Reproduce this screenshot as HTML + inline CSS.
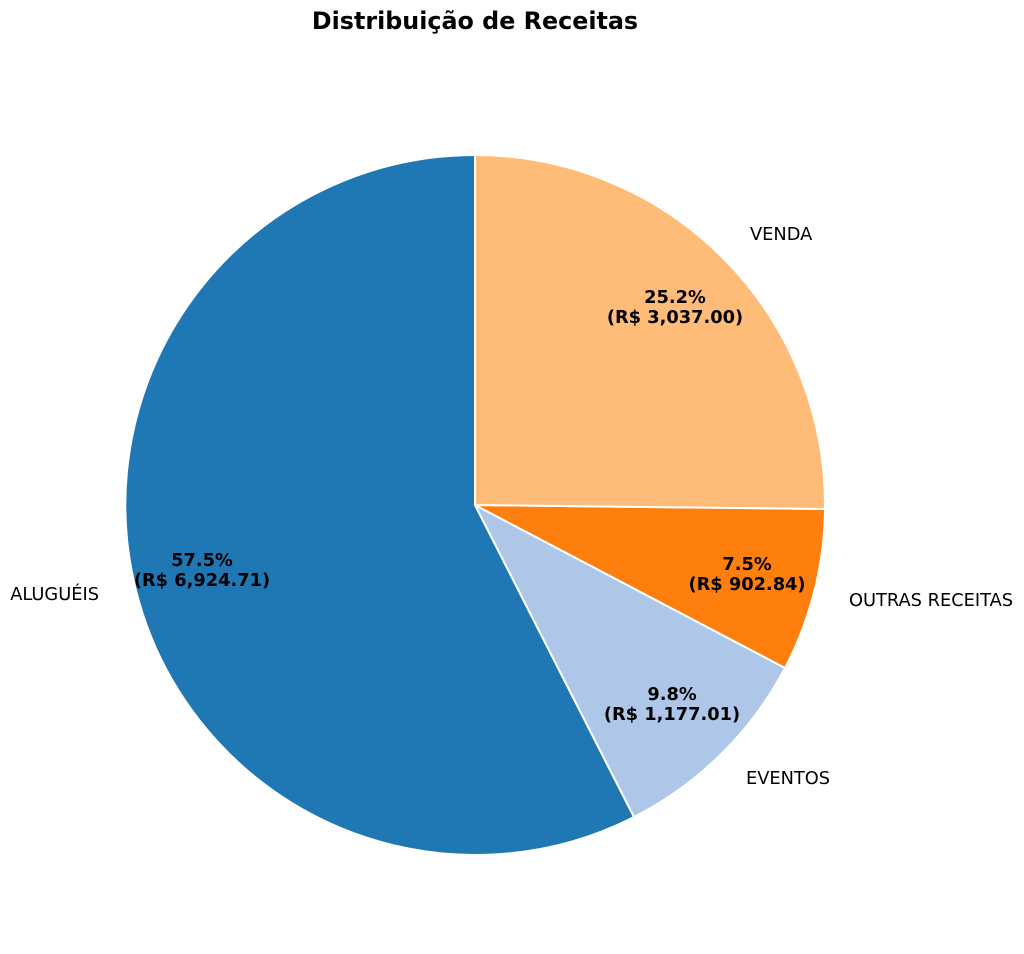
<!DOCTYPE html>
<html><head><meta charset="utf-8"><style>body{margin:0;background:#fff}svg{display:block}</style></head>
<body>
<svg width="1024" height="954" xmlns="http://www.w3.org/2000/svg" font-family="'DejaVu Sans','Liberation Sans',sans-serif">
<text x="475" y="29" font-size="23.8" font-weight="bold" text-anchor="middle">Distribuição de Receitas</text>
<g stroke="#fff" stroke-width="2" stroke-linejoin="round">
<path d="M475,505 L475,155 A350,350 0 1,0 634,817 Z" fill="#1f77b4"/>
<path d="M475,505 L634,817 A350,350 0 0,0 785,668 Z" fill="#aec7e8"/>
<path d="M475,505 L785,668 A350,350 0 0,0 825,509 Z" fill="#ff7f0e"/>
<path d="M475,505 L825,509 A350,350 0 0,0 475,155 Z" fill="#ffbb78"/>
</g>
<g font-size="17.8" fill="#000">
<text x="750" y="240">VENDA</text>
<text x="99" y="600" text-anchor="end">ALUGUÉIS</text>
<text x="849" y="606">OUTRAS RECEITAS</text>
<text x="746" y="784">EVENTOS</text>
</g>
<g font-size="17.8" font-weight="bold" text-anchor="middle">
<text x="675" y="303">25.2%</text><text x="675" y="323">(R$ 3,037.00)</text>
<text x="202" y="566">57.5%</text><text x="202" y="586">(R$ 6,924.71)</text>
<text x="747" y="570">7.5%</text><text x="747" y="590">(R$ 902.84)</text>
<text x="672" y="700">9.8%</text><text x="672" y="720">(R$ 1,177.01)</text>
</g>
</svg>
</body></html>
